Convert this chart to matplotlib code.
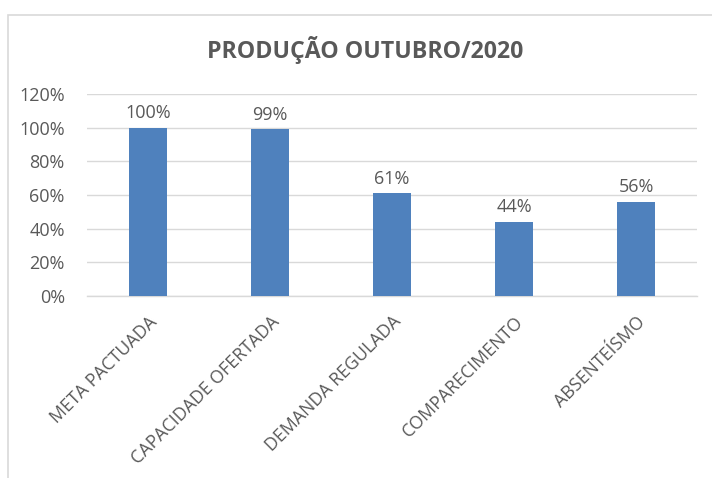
import matplotlib
matplotlib.use('Agg')
import matplotlib.pyplot as plt
from matplotlib.patches import Rectangle
from matplotlib.ticker import FuncFormatter

plt.rcParams['font.family'] = ['Open Sans', 'DejaVu Sans']

categorias = ['META PACTUADA', 'CAPACIDADE OFERTADA', 'DEMANDA REGULADA',
              'COMPARECIMENTO', 'ABSENTEÍSMO']
valores = [1.00, 0.99, 0.61, 0.44, 0.56]
rotulos = ['100%', '99%', '61%', '44%', '56%']

cinza = '#595959'
fig = plt.figure(figsize=(7.12, 4.78), dpi=100)
ax = fig.add_axes([87/712, 1 - 296/478, 610/712, 202/478])

x = range(len(categorias))
ax.bar(x, valores, width=0.31, color='#4f81bd', zorder=3)
for i, v in enumerate(valores):
    ax.annotate(rotulos[i], (i, v), xytext=(0, 4), textcoords='offset points',
                ha='center', va='bottom', fontsize=13, color=cinza)

ax.set_xlim(-0.5, len(categorias) - 0.5)
ax.set_ylim(0, 1.2)
ax.set_yticks([0, 0.2, 0.4, 0.6, 0.8, 1.0, 1.2])
ax.yaxis.set_major_formatter(FuncFormatter(lambda v, p: '%d%%' % round(v * 100)))
ax.grid(axis='y', color='#d9d9d9', linewidth=1, zorder=0)
for s in ['top', 'right', 'left']:
    ax.spines[s].set_visible(False)
ax.spines['bottom'].set_color('#d9d9d9')
ax.spines['bottom'].set_linewidth(1)
ax.tick_params(axis='both', length=0, labelsize=13, labelcolor=cinza)
ax.tick_params(axis='y', pad=16)
ax.set_xticks(list(x))
ax.set_xticklabels(categorias, rotation=45, ha='right', va='top', rotation_mode='anchor',
                   fontsize=12.8)
ax.tick_params(axis='x', pad=12)

fig.text(365/712, 1 - 50/478, 'PRODUÇÃO OUTUBRO/2020', ha='center', va='center',
         fontsize=16.7, fontweight='bold', color=cinza)

fig.patches.append(Rectangle((8/712, -0.1), 1.2, 1.1 - 15/478, transform=fig.transFigure,
                             fill=False, edgecolor='#d9d9d9', linewidth=1.2))

fig.savefig('out.png', dpi=100)
